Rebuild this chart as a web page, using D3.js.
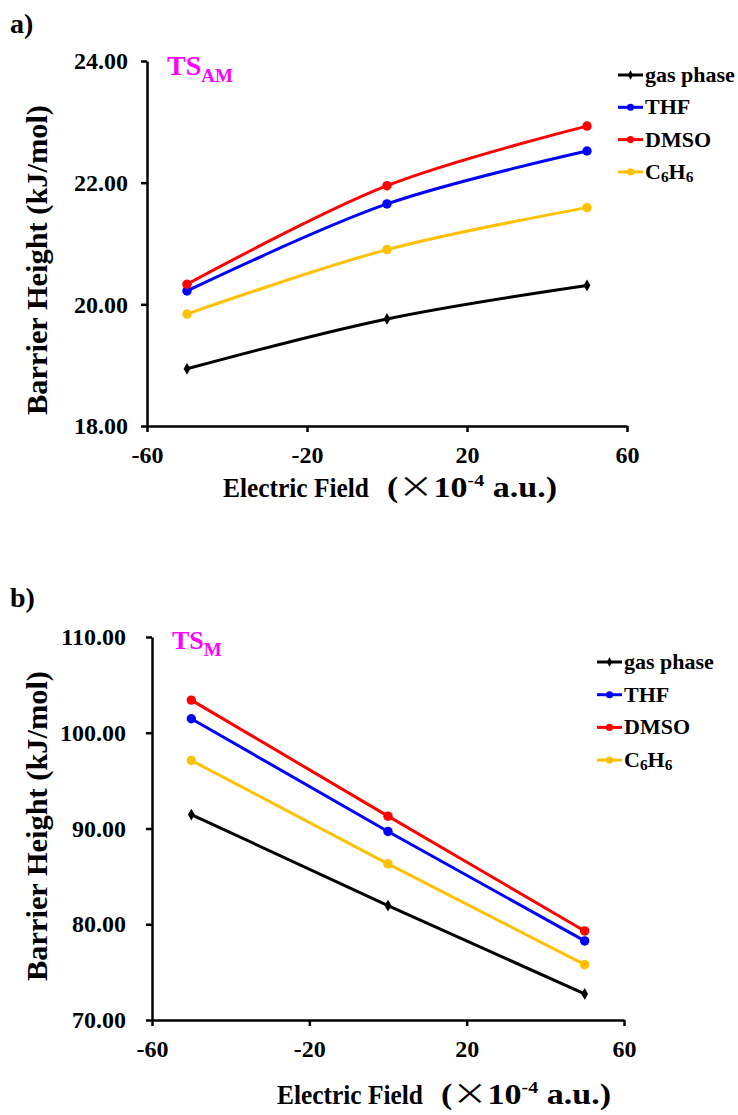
<!DOCTYPE html>
<html>
<head>
<meta charset="utf-8">
<script src="https://cdn.jsdelivr.net/npm/d3@7"></script>
<style>
  body { margin: 0; background: #fff; }
  svg { display: block; }
  text { font-family: "Liberation Serif", "Times New Roman", serif; font-weight: bold; }
</style>
</head>
<body>
<script>
// electric field values (x 10^-4 a.u.)
const fieldValues = [-50, 0, 50];
const seriesNames = ['gas phase', 'THF', 'DMSO', 'C6H6'];
const seriesColors = ['#000000', '#0000FF', '#FF0000', '#FFC000'];
const xTicks = [-60, -20, 20, 60];

// panel a) TS_AM barrier heights (kJ/mol)
const tsAmGas = [18.94, 19.76, 20.31];
const tsAmThf = [20.22, 21.65, 22.52];
const tsAmDmso = [20.33, 21.95, 22.93];
const tsAmBenzene = [19.84, 20.90, 21.59];
const tsAmTicks = [18, 20, 22, 24];

// panel b) TS_M barrier heights (kJ/mol)
const tsMGas = [91.46, 81.95, 72.72];
const tsMThf = [101.46, 89.69, 78.26];
const tsMDmso = [103.41, 91.29, 79.30];
const tsMBenzene = [97.11, 86.31, 75.78];
const tsMTicks = [70, 80, 90, 100, 110];

const W = 738, H = 1115;
const svg = d3.select('body').append('svg')
  .attr('width', W).attr('height', H)
  .attr('xmlns', d3.namespaces.svg);

const panels = [
  {
    tag: 'a)', tagY: 33, ts: 'TS', sub: 'AM', tsX: 167, tsY: 75, tsSize: 28, subSize: 19,
    left: 147, right: 627, top: 61, bottom: 426, ticks: tsAmTicks, pad: 13,
    values: [tsAmGas, tsAmThf, tsAmDmso, tsAmBenzene], smooth: true,
    legendX: 618, legendY: 75, legendStep: 32.3,
    yTitleY: 260, xTitleY: 497, xTitleX: 223,
  },
  {
    tag: 'b)', tagY: 607, ts: 'TS', sub: 'M', tsX: 172, tsY: 649, tsSize: 26, subSize: 19,
    left: 152, right: 624, top: 637, bottom: 1020, ticks: tsMTicks, pad: 20,
    values: [tsMGas, tsMThf, tsMDmso, tsMBenzene], smooth: false,
    legendX: 597, legendY: 662, legendStep: 32.7,
    yTitleY: 826, xTitleY: 1104, xTitleX: 277,
  },
];

function subLabel(sel, name, baseSize) {
  // C6H6 gets subscripts
  if (name === 'C6H6') {
    sel.append('tspan').text('C');
    sel.append('tspan').text('6').attr('font-size', baseSize * 0.7).attr('dy', 3);
    sel.append('tspan').text('H').attr('dy', -3);
    sel.append('tspan').text('6').attr('font-size', baseSize * 0.7).attr('dy', 3);
  } else {
    sel.text(name);
  }
}

panels.forEach(p => {
  const g = svg.append('g');
  const x = d3.scaleLinear().domain([-60, 60]).range([p.left, p.right]);
  const y = d3.scaleLinear().domain(d3.extent(p.ticks)).range([p.bottom, p.top]);

  g.append('text').attr('x', 10).attr('y', p.tagY).attr('font-size', 28).text(p.tag);

  const ts = g.append('text').attr('x', p.tsX).attr('y', p.tsY)
    .attr('fill', '#FF00FF').attr('font-size', p.tsSize);
  ts.append('tspan').text(p.ts);
  ts.append('tspan').text(p.sub).attr('font-size', p.subSize).attr('dy', 7);

  // axes
  const yAxis = g.append('g')
    .attr('transform', `translate(${p.left},0)`)
    .call(d3.axisLeft(y).tickValues(p.ticks).tickSize(6).tickSizeOuter(0)
      .tickPadding(p.pad).tickFormat(d3.format('.2f')));
  const xAxis = g.append('g')
    .attr('transform', `translate(0,${p.bottom})`)
    .call(d3.axisBottom(x).tickValues(xTicks).tickSize(6).tickSizeOuter(0)
      .tickFormat(d => String(d)));
  [yAxis, xAxis].forEach(a => {
    a.select('.domain').attr('stroke', '#000').attr('stroke-width', 2.5);
    a.selectAll('.tick line').attr('stroke', '#000').attr('stroke-width', 2.5);
    a.selectAll('text').attr('font-family', '"Liberation Serif", serif')
      .attr('font-weight', 'bold').attr('font-size', 24).attr('fill', '#000');
  });
  xAxis.selectAll('text').attr('y', 37).attr('dy', 0);

  // titles
  g.append('text')
    .attr('transform', `translate(47,${p.yTitleY}) rotate(-90)`)
    .attr('text-anchor', 'middle').attr('font-size', 29)
    .attr('textLength', 310).attr('lengthAdjust', 'spacingAndGlyphs')
    .text('Barrier Height (kJ/mol)');

  g.append('text').attr('x', p.xTitleX).attr('y', p.xTitleY).attr('font-size', 27)
    .attr('textLength', 146).attr('lengthAdjust', 'spacingAndGlyphs')
    .text('Electric Field');
  const xt = g.append('text').attr('x', p.xTitleX + 164).attr('y', p.xTitleY).attr('font-size', 29)
    .attr('textLength', 170).attr('lengthAdjust', 'spacingAndGlyphs');
  xt.append('tspan').text('(');
  xt.append('tspan').text('\u00D7').attr('font-family', '"Noto Sans CJK SC", sans-serif')
    .attr('font-weight', 'normal').attr('font-size', 30);
  xt.append('tspan').text('10');
  xt.append('tspan').text('-4').attr('font-size', 17).attr('dy', -11);
  xt.append('tspan').text('\u00A0a.u.)').attr('dy', 11);

  // lines and markers
  const line = d3.line()
    .curve(p.smooth ? d3.curveCatmullRom : d3.curveLinear)
    .x((d, i) => x(fieldValues[i]))
    .y(d => y(d));

  p.values.forEach((vals, si) => {
    const color = seriesColors[si];
    g.append('path').attr('d', line(vals))
      .attr('fill', 'none').attr('stroke', color).attr('stroke-width', 3);
    g.append('g').selectAll('path').data(vals).enter().append('path')
      .attr('transform', (d, i) => `translate(${x(fieldValues[i])},${y(d)})`)
      .attr('fill', color)
      .attr('d', si === 0 ? d3.symbol(d3.symbolDiamond, 40)() : d3.symbol(d3.symbolCircle, 70)());
  });

  // legend
  const leg = g.append('g').selectAll('g').data(seriesNames).enter().append('g')
    .attr('transform', (d, i) => `translate(${p.legendX},${p.legendY + i * p.legendStep})`);
  leg.append('line').attr('x1', 0).attr('x2', 25).attr('y1', 0).attr('y2', 0)
    .attr('stroke', (d, i) => seriesColors[i]).attr('stroke-width', 3);
  leg.append('path').attr('transform', 'translate(12.5,0)')
    .attr('fill', (d, i) => seriesColors[i])
    .attr('d', (d, i) => i === 0 ? d3.symbol(d3.symbolDiamond, 25)() : d3.symbol(d3.symbolCircle, 40)());
  leg.append('text').attr('x', 27).attr('y', 7).attr('font-size', 22)
    .each(function (d) { subLabel(d3.select(this), d, 22); });
});
</script>
</body>
</html>
